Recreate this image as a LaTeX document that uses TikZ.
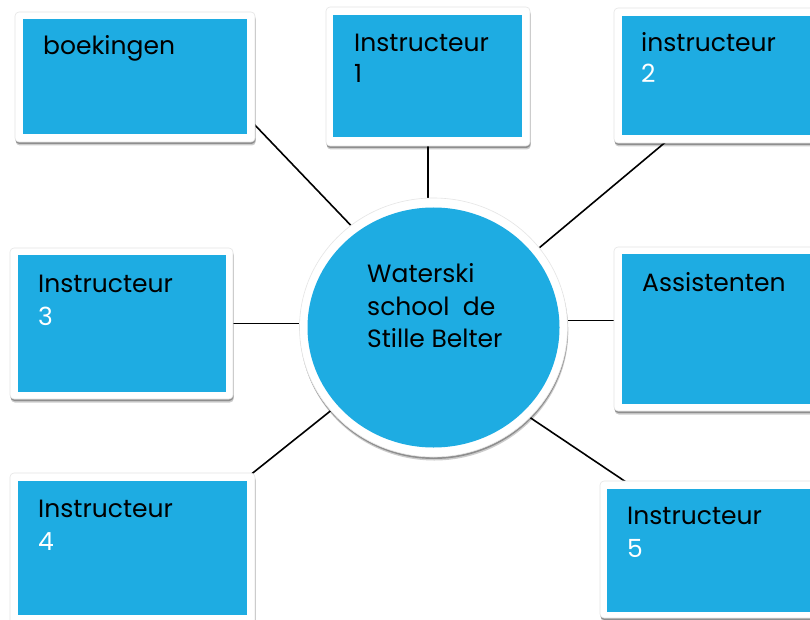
\documentclass[tikz,border=0pt]{standalone}
\usepackage{fontspec}
\setmainfont{Poppins}
\usetikzlibrary{shapes.geometric,shadows}
\pgfdeclarelayer{background}
\pgfdeclarelayer{canvas}
\pgfsetlayers{canvas,background,main}
\definecolor{sky}{RGB}{30,172,226}
\tikzset{
  softshadow/.style={
    drop shadow={shadow xshift=0.8pt, shadow yshift=-3.5pt, fill=black, opacity=0.2},
    drop shadow={shadow xshift=0.4pt, shadow yshift=-2pt, fill=black, opacity=0.3}},
  frame/.style={rectangle, fill=white, draw=black!10, line width=0.6pt, rounded corners=4pt, inner sep=0pt, softshadow},
  panel/.style={rectangle, fill=sky, inner sep=0pt},
  lbl/.style={anchor=base west, inner sep=0pt, font=\fontsize{25}{30}\selectfont, text=black},
  num/.style={lbl, text=white},
  link/.style={draw=black, line width=1.6pt}
}
\begin{document}
\begin{tikzpicture}[x=1pt,y=-1pt]
\useasboundingbox (0,0) rectangle (810,620);
\begin{pgfonlayer}{canvas}
\fill[white] (0,0) rectangle (810,620);
\end{pgfonlayer}
% centre
\node[ellipse, fill=white, draw=black!10, line width=0.6pt, inner sep=0pt, minimum width=268pt, minimum height=259pt, softshadow] (c) at (433.5,327.5) {};
\node[ellipse, fill=sky, inner sep=0pt, minimum width=252pt, minimum height=240pt] (cb) at (433.5,327.5) {};
\node[lbl] (ct1) at (367,282) {Waterski};
\node[lbl] (ct2) at (367,315) {school\ \ de};
\node[lbl] (ct3) at (367,347) {Stille Belter};
% boxes
\node[frame, minimum width=240pt, minimum height=130pt] (f0) at (135,77) {};
\node[panel, minimum width=224pt, minimum height=115pt] (p0) at (135,76.5) {};
\node[lbl] (t0) at (43,55) {boekingen};

\node[frame, minimum width=204pt, minimum height=139pt] (f1) at (428,76.5) {};
\node[panel, minimum width=189pt, minimum height=122pt] (p1) at (427.5,76) {};
\node[lbl] (t1) at (354,52) {Instructeur};
\node[lbl] (n1) at (354,83) {1};

\node[frame, minimum width=216pt, minimum height=135pt] (f2) at (722,75.5) {};
\node[panel, minimum width=200pt, minimum height=119pt] (p2) at (722,75.5) {};
\node[lbl] (t2) at (641,52) {instructeur};
\node[num] (n2) at (641,83) {2};

\node[frame, minimum width=223pt, minimum height=151pt] (f3) at (121.5,323.5) {};
\node[panel, minimum width=208pt, minimum height=137pt] (p3) at (122,323.5) {};
\node[lbl] (t3) at (38,292) {Instructeur};
\node[num] (n3) at (38,325) {3};

\node[frame, minimum width=216pt, minimum height=164pt] (f4) at (722,329) {};
\node[panel, minimum width=200pt, minimum height=150pt] (p4) at (722,329) {};
\node[lbl] (t4) at (642,291) {Assistenten};

\node[frame, minimum width=245pt, minimum height=157pt] (f5) at (132.5,551.5) {};
\node[panel, minimum width=229pt, minimum height=134pt] (p5) at (132.5,548) {};
\node[lbl] (t5) at (38,517) {Instructeur};
\node[num] (n5) at (38,550) {4};

\node[frame, minimum width=230pt, minimum height=137pt] (f6) at (715,549.5) {};
\node[panel, minimum width=215pt, minimum height=123pt] (p6) at (714.5,550.5) {};
\node[lbl] (t6) at (627,524) {Instructeur};
\node[num] (n6) at (627,557) {5};
% connector ends on boxes
\coordinate (e0) at (252,122);
\coordinate (e2) at (668,140);
\coordinate (e5) at (249,476);
\coordinate (e6) at (629,484);
\begin{pgfonlayer}{background}
\draw[link] (e0) -- (c.129.3);
\draw[link] (f1.south) -- (c.north -| f1.south);
\draw[link] (e2) -- (c.37);
\draw[link] (f3.east) -- (f3.east -| c.west);
\draw[link] (c.3.2) -- (c.3.2 -| f4.west);
\draw[link] (e5) -- (c.219.2);
\draw[link] (e6) -- (c.-43.2);
\end{pgfonlayer}
\end{tikzpicture}
\end{document}
